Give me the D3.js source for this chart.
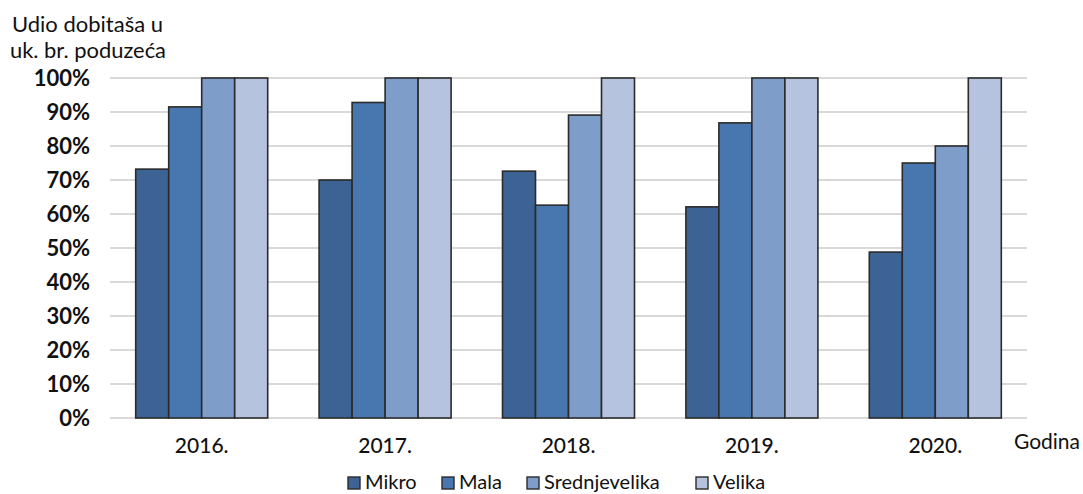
<!DOCTYPE html>
<html><head><meta charset="utf-8">
<script src="https://cdn.jsdelivr.net/npm/d3@7"></script>
<style>body{margin:0;background:#fff}svg{display:block}text{font-family:Lato,"Open Sans",sans-serif}</style>
</head><body>
<svg id="c" width="1083" height="494"></svg>
<script>
const years = ["2016.", "2017.", "2018.", "2019.", "2020."];
const seriesNames = ["Mikro", "Mala", "Srednjevelika", "Velika"];
const mikro = [73.2, 70.0, 72.6, 62.1, 48.8];
const mala = [91.5, 92.8, 62.6, 86.8, 75.0];
const srednjevelika = [100, 100, 89.1, 100, 80.0];
const velika = [100, 100, 100, 100, 100];
const yTicks = [0, 10, 20, 30, 40, 50, 60, 70, 80, 90, 100];
const colors = ["#3d6394", "#4777ae", "#7f9dc9", "#b5c3de"];
const values = [mikro, mala, srednjevelika, velika];

const svg = d3.select("#c");
const L = 110, R = 1027, T = 78, B = 418;
const x0 = d3.scaleBand().domain(years).range([L, R]).paddingInner(0).paddingOuter(0);
const bw = 33;
const y = d3.scaleLinear().domain([0, 100]).range([B, T]);

// gridlines
svg.append("g").selectAll("line").data(yTicks).join("line")
  .attr("x1", L).attr("x2", R).attr("y1", d => y(d)).attr("y2", d => y(d))
  .attr("stroke", "#d9d9d9").attr("stroke-width", 2);

// y labels
svg.append("g").selectAll("text").data(yTicks).join("text")
  .attr("x", 90).attr("y", d => y(d)).attr("dy", "0.36em")
  .attr("text-anchor", "end").attr("font-size", 22).attr("font-weight", "bold")
  .attr("fill", "#111").text(d => d + "%");

// bars
years.forEach((yr, i) => {
  const cx = x0(yr) + x0.bandwidth() / 2;
  values.forEach((arr, s) => {
    const xl = cx - 2 * bw + s * bw;
    svg.append("rect")
      .attr("x", xl).attr("width", bw)
      .attr("y", y(arr[i])).attr("height", B - y(arr[i]))
      .attr("fill", colors[s]).attr("stroke", "#2b2b2b").attr("stroke-width", 1.6);
  });
});

// x labels
svg.append("g").selectAll("text").data(years).join("text")
  .attr("x", d => x0(d) + x0.bandwidth() / 2).attr("y", 453)
  .attr("text-anchor", "middle").attr("font-size", 21).attr("font-weight", 500)
  .attr("fill", "#111").text(d => d);

svg.append("text").attr("x", 1080).attr("y", 449).attr("text-anchor", "end")
  .attr("font-size", 21).attr("fill", "#111").text("Godina");

// title
svg.append("text").attr("x", 12).attr("y", 32).attr("font-size", 21).attr("fill", "#111")
  .attr("textLength", 151).attr("lengthAdjust", "spacingAndGlyphs").text("Udio dobitaša u");
svg.append("text").attr("x", 10).attr("y", 58).attr("font-size", 21).attr("fill", "#111")
  .attr("textLength", 156).attr("lengthAdjust", "spacingAndGlyphs").text("uk. br. poduzeća");

// legend
const legX = [348, 442, 527, 696];
seriesNames.forEach((n, i) => {
  svg.append("rect").attr("x", legX[i]).attr("y", 477).attr("width", 12).attr("height", 12)
    .attr("fill", colors[i]).attr("stroke", "#2b2b2b").attr("stroke-width", 1.4);
  svg.append("text").attr("x", legX[i] + 17).attr("y", 489).attr("font-size", 20)
    .attr("fill", "#111").text(n);
});
</script>
</body></html>
